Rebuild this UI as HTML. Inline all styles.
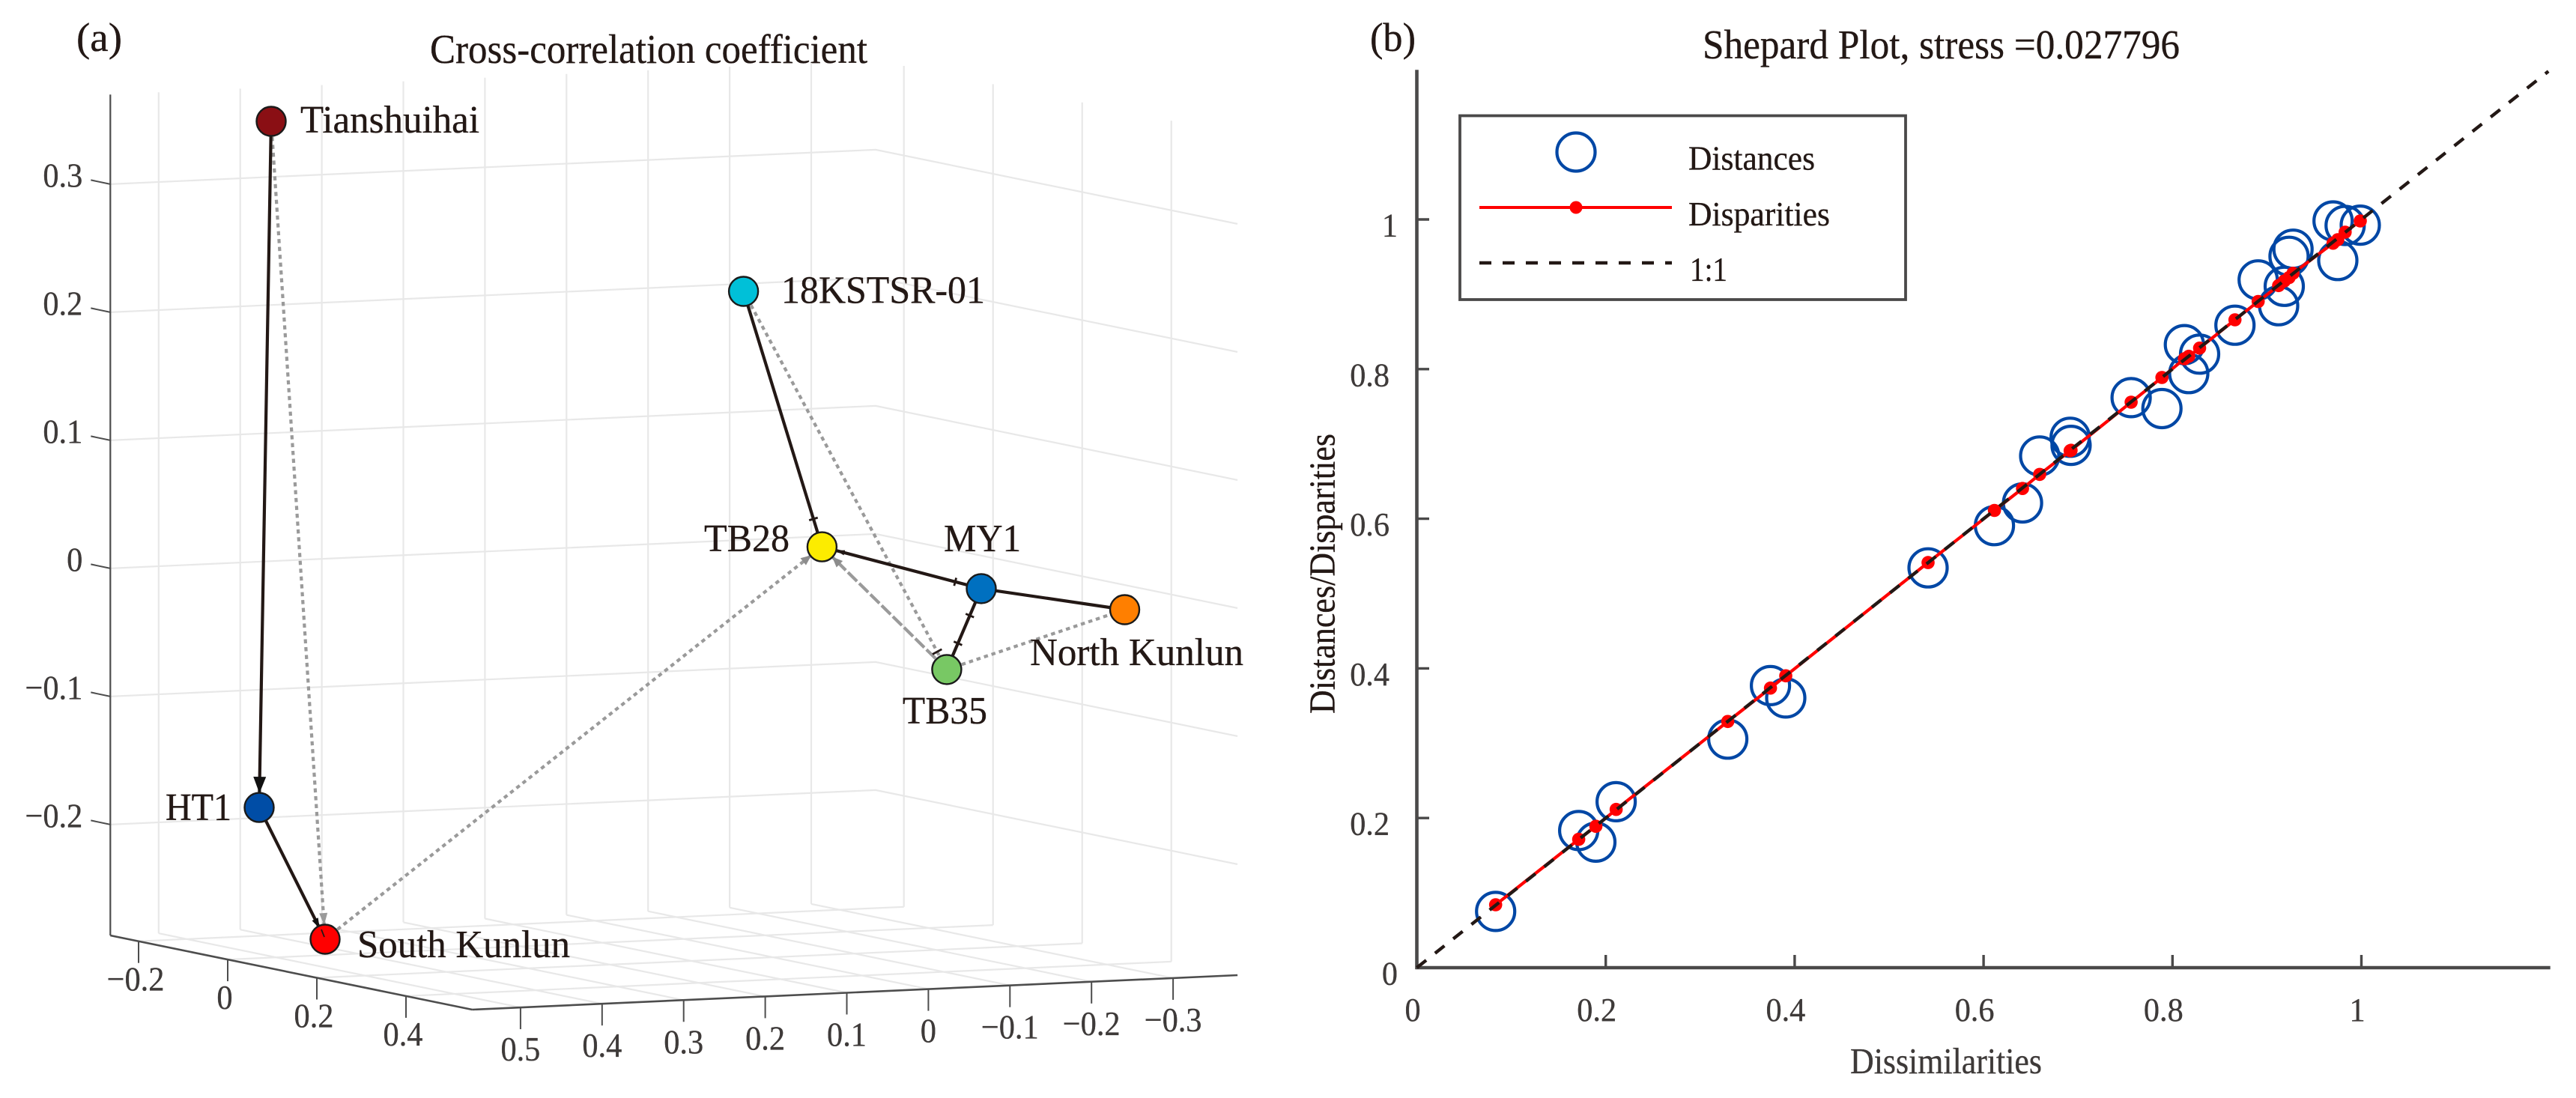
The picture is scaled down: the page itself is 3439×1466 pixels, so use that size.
<!DOCTYPE html>
<html lang="en">
<head>
<meta charset="utf-8">
<title>Cross-correlation coefficient and Shepard plot</title>
<style>
html,body{margin:0;padding:0;background:#fff;width:3439px;height:1466px;overflow:hidden}
svg{display:block;font-family:"Liberation Serif","Times New Roman",serif}
text{stroke:currentColor;stroke-width:0.35px}
</style>
</head>
<body>
<svg id="fig" xmlns="http://www.w3.org/2000/svg" width="3439" height="1466" viewBox="0 0 3439 1466">
  <rect x="0" y="0" width="3439" height="1466" fill="#fff"/>
  <text x="102" y="68" font-size="54" fill="#231815" color="#231815" textLength="61" lengthAdjust="spacingAndGlyphs">(a)</text>
  <text x="574" y="84" font-size="55" fill="#231815" color="#231815" textLength="584" lengthAdjust="spacingAndGlyphs">Cross-correlation coefficient</text>
  <text x="1829" y="68" font-size="54" fill="#231815" color="#231815" textLength="61" lengthAdjust="spacingAndGlyphs">(b)</text>
  <text x="2273" y="78" font-size="55" fill="#231815" color="#231815" textLength="637" lengthAdjust="spacingAndGlyphs">Shepard Plot, stress =0.027796</text>
  <g id="panelA"></g>
  <g id="panelB"></g>
  <text x="2470" y="1433" font-size="49" fill="#3e3a39" color="#3e3a39" textLength="256" lengthAdjust="spacingAndGlyphs">Dissimilarities</text>
  <text transform="translate(1781.5 953) rotate(-90)" x="0" y="0" font-size="49" fill="#231815" color="#231815" textLength="374" lengthAdjust="spacingAndGlyphs">Distances/Disparities</text>
  <g>
    <rect x="1949" y="154.5" width="595" height="245.5" fill="#fff" stroke="#4a4949" stroke-width="3.8"/>
    <circle cx="2104" cy="203" r="25.5" fill="none" stroke="#0047a5" stroke-width="4.2"/>
    <text x="2254" y="226.5" font-size="46" fill="#231815" color="#231815" textLength="169" lengthAdjust="spacingAndGlyphs">Distances</text>
    <line x1="1975" y1="277" x2="2232" y2="277" stroke="#ff0000" stroke-width="4"/>
    <circle cx="2104" cy="277" r="8.5" fill="#ff0000"/>
    <text x="2254" y="301" font-size="46" fill="#231815" color="#231815" textLength="189" lengthAdjust="spacingAndGlyphs">Disparities</text>
    <line x1="1975" y1="351" x2="2232" y2="351" stroke="#231815" stroke-width="4.4" stroke-dasharray="16 15"/>
    <text x="2256" y="375" font-size="46" fill="#231815" color="#231815" textLength="50" lengthAdjust="spacingAndGlyphs">1:1</text>
  </g>
</svg>
<script>
/* ---------- Panel (a) data ---------- */
const nodeNames = ["Tianshuihai","18KSTSR-01","TB28","MY1","North Kunlun","TB35","HT1","South Kunlun"];
const nodeX = [0.4513,-0.0185,-0.1420,-0.3099,-0.3492,-0.2403,0.4660,0.4945];
const nodeY = [-0.10,0.10,0.05,0.10,0.35,0.15,-0.10,0.10];
const nodeZ = [0.3576,0.2257,0.0191,-0.0148,-0.0145,-0.0724,-0.1777,-0.2655];
const nodeColors = ["#8a0f14","#00c0d8","#fcec00","#0070c0","#ff7f00","#78c864","#004da6","#ff0000"];
const solidEdgeFrom = [0,6,1,2,3,3];
const solidEdgeTo   = [6,7,2,3,4,5];
const dottedEdgeFrom = [0,7,1,5,5];
const dottedEdgeTo   = [7,2,5,2,4];
const xTickValues = [0.5,0.4,0.3,0.2,0.1,0,-0.1,-0.2,-0.3];
const xTickLabels = ["0.5","0.4","0.3","0.2","0.1","0","\u22120.1","\u22120.2","\u22120.3"];
const yTickValues = [-0.2,0,0.2,0.4];
const yTickLabels = ["\u22120.2","0","0.2","0.4"];
const zTickValues = [0.3,0.2,0.1,0,-0.1,-0.2];
const zTickLabels = ["0.3","0.2","0.1","0","\u22120.1","\u22120.2"];

/* ---------- Panel (b) data ---------- */
const dissimilarities = [.0834,.1714,.1895,.2110,.3292,.3744,.3906,.5412,.6115,.6412,.6594,.6917,.6926,.7562,.7888,.8126,.8172,.8287,.8661,.8907,.9124,.9183,.9234,.9276,.9700,.9750,.9828,.9988];
const distances = [.0752,.1833,.1678,.2218,.3055,.3770,.3605,.5343,.5908,.6211,.6839,.7089,.6981,.7619,.7472,.8327,.7940,.8200,.8587,.9192,.8847,.9106,.9508,.9603,.9980,.9451,.9920,.9924];
const disparities = [.0841,.1716,.1890,.2115,.3290,.3737,.3901,.5414,.6111,.6404,.6593,.6909,.6915,.7558,.7888,.8138,.8171,.8280,.8659,.8904,.9116,.9177,.9223,.9280,.9683,.9730,.9830,.9980];
const bTickValues = [0,0.2,0.4,0.6,0.8,1];
const bTickLabels = ["0","0.2","0.4","0.6","0.8","1"];

const NS = "http://www.w3.org/2000/svg";
function mk(parent, tag, attrs, text){
  const el = document.createElementNS(NS, tag);
  for (const k in attrs) el.setAttribute(k, attrs[k]);
  if (text !== undefined) el.textContent = text;
  parent.appendChild(el);
  return el;
}
function fit(el, factor){
  el.setAttribute("textLength", (el.getComputedTextLength()*factor).toFixed(1));
  el.setAttribute("lengthAdjust", "spacingAndGlyphs");
}
const slug = s => String(s).toLowerCase().replace(/\u2212/g,"minus-").replace(/[^a-z0-9]+/g,"-");

/* ---------- Panel (a): 3D projection ---------- */
const xMax = 0.5592, xMin = -0.379, yMin = -0.2634, yMax = 0.5486, zMin = -0.2866, zMax = 0.37;
function S(x, y, z){
  const p = y - yMin, q = xMax - x;
  return [147.3 + p*595 + q*1089, 1249 + p*121.9 - q*49 - (z - zMin)*1710];
}
const A = document.getElementById("panelA");
const GRID = "#e8e8e8", AX = "#4d4d4d";
function seg(parent, a, b, color, w, extra){
  return mk(parent, "line", Object.assign({x1:a[0].toFixed(1),y1:a[1].toFixed(1),x2:b[0].toFixed(1),y2:b[1].toFixed(1),stroke:color,"stroke-width":w}, extra||{}));
}
xTickValues.forEach((x,i)=>{
  const l1 = seg(A, S(x,yMin,zMin), S(x,yMin,zMax), GRID, 2.2);
  
  
  const l2 = seg(A, S(x,yMin,zMin), S(x,yMax,zMin), GRID, 2.2);
  
  
});
yTickValues.forEach((y,i)=>{
  const l1 = seg(A, S(xMin,y,zMin), S(xMin,y,zMax), GRID, 2.2);
  
  
  const l2 = seg(A, S(xMax,y,zMin), S(xMin,y,zMin), GRID, 2.2);
  
  
});
zTickValues.forEach((z,i)=>{
  const a = S(xMax,yMin,z), b = S(xMin,yMin,z), c = S(xMin,yMax,z);
  const pl = mk(A, "polyline", {points:[a,b,c].map(p=>p[0].toFixed(1)+","+p[1].toFixed(1)).join(" "),fill:"none",stroke:GRID,"stroke-width":2.2});
  
  
});
/* axes */
const zAxis = seg(A, S(xMax,yMin,zMin), S(xMax,yMin,zMax), AX, 2.2);


const yAxis = seg(A, S(xMax,yMin,zMin), S(xMax,yMax,zMin), AX, 2.6);


const xAxis = seg(A, S(xMax,yMax,zMin), S(xMin,yMax,zMin), AX, 2.6);


/* ticks + labels */
zTickValues.forEach((z,i)=>{
  const p = S(xMax,yMin,z);
  const t = seg(A, p, [p[0]-26,p[1]-5.5], AX, 2);
  
  
  const lab = mk(A, "text", {x:(p[0]-37).toFixed(1),y:(p[1]+3.5).toFixed(1),"font-size":46,fill:"#3e3a39",color:"#3e3a39","text-anchor":"end"}, zTickLabels[i]);
  
  
  fit(lab, 0.92);
});
yTickValues.forEach((y,i)=>{
  const p = S(xMax,y,zMin);
  const t = seg(A, p, [p[0],p[1]+29], AX, 2);
  
  
  const lab = mk(A, "text", {x:(p[0]-4).toFixed(1),y:(p[1]+66).toFixed(1),"font-size":46,fill:"#3e3a39",color:"#3e3a39","text-anchor":"middle"}, yTickLabels[i]);
  
  
  fit(lab, 0.92);
});
xTickValues.forEach((x,i)=>{
  const p = S(x,yMax,zMin);
  const t = seg(A, p, [p[0],p[1]+29], AX, 2);
  
  
  const lab = mk(A, "text", {x:p[0].toFixed(1),y:(p[1]+71).toFixed(1),"font-size":46,fill:"#3e3a39",color:"#3e3a39","text-anchor":"middle"}, xTickLabels[i]);
  
  
  fit(lab, 0.92);
});
/* graph */
const pts = nodeNames.map((n,i)=>S(nodeX[i],nodeY[i],nodeZ[i]));
function along(a,b,dFromB){
  const dx=b[0]-a[0],dy=b[1]-a[1],L=Math.hypot(dx,dy);
  return {p:[b[0]-dx/L*dFromB,b[1]-dy/L*dFromB],ux:dx/L,uy:dy/L};
}
function arrow(a,b,tipD,len,halfW,color,name){
  const t=along(a,b,tipD), s=along(a,b,tipD+len);
  const nx=-t.uy,ny=t.ux;
  const ar = mk(A,"polygon",{points:[t.p[0]+","+t.p[1],(s.p[0]+nx*halfW)+","+(s.p[1]+ny*halfW),(s.p[0]-nx*halfW)+","+(s.p[1]-ny*halfW)].join(" "),fill:color});
  
  
}
function crossTick(a,b,d,halfW,name){
  const t=along(a,b,d), nx=-t.uy, ny=t.ux;
  const ln = seg(A,[t.p[0]+nx*halfW,t.p[1]+ny*halfW],[t.p[0]-nx*halfW,t.p[1]-ny*halfW],"#231815",2.8);
  
  
}
dottedEdgeFrom.forEach((f,i)=>{
  const t = dottedEdgeTo[i];
  const dashed = (f===5 && t===2);
  const e = seg(A, pts[f], pts[t], "#9a9a9a", 4.2, {"stroke-dasharray": dashed ? "17 4" : "5.5 5"});
  
  
});
solidEdgeFrom.forEach((f,i)=>{
  const t = solidEdgeTo[i];
  const e = seg(A, pts[f], pts[t], "#231815", 4.2);
  
  
});
arrow(pts[0],pts[6],19,22,8.5,"#111",'arrow-tianshuihai-to-ht1');
arrow(pts[6],pts[7],16,14,4.5,"#111",'arrow-ht1-to-south-kunlun');
arrow(pts[0],pts[7],19,16,5.5,"#9a9a9a",'arrow-tianshuihai-to-south-kunlun');
arrow(pts[7],pts[2],18,14,6,"#8c8c8c",'arrow-south-kunlun-to-tb28');
arrow(pts[5],pts[2],19,14,6,"#8c8c8c",'arrow-tb35-to-tb28');
arrow(pts[3],pts[2],19,12,3.5,"#231815",'arrow-my1-to-tb28');
crossTick(pts[1],pts[2],39,6,'tick-18kstsr-to-tb28');
crossTick(pts[2],pts[3],36,5.5,'tick-tb28-to-my1');
crossTick(pts[3],pts[5],38,6,'tick-my1-to-tb35-lower');
crossTick(pts[5],pts[3],39,6,'tick-my1-to-tb35-upper');
crossTick(pts[1],pts[5],27,7,'tick-18kstsr-to-tb35');
nodeNames.forEach((n,i)=>{
  const c = mk(A,"circle",{cx:pts[i][0].toFixed(1),cy:pts[i][1].toFixed(1),r:19.5,fill:nodeColors[i],stroke:"#1a1a1a","stroke-width":2.4});
  
  
});
/* small mark where the HT1 edge tip overlaps the South Kunlun node */
const tipMark = seg(A,[pts[7][0]-5,pts[7][1]-13],[pts[7][0]-1,pts[7][1]-3],"#231815",1.8);


/* label placement relative to each node, and fitted widths */
const labelDx = [39,50.4,-157.4,-50,-126.5,-59,-125,43];
const labelDy = [15,15.6,6,-50,74,72,17,24];
const labelW  = [239,272,114,103,285,113,88,284];
nodeNames.forEach((n,i)=>{
  const lab = mk(A,"text",{x:(pts[i][0]+labelDx[i]).toFixed(1),y:(pts[i][1]+labelDy[i]).toFixed(1),"font-size":52,fill:"#231815",color:"#231815",textLength:labelW[i],lengthAdjust:"spacingAndGlyphs"},n);
  
  
});

/* ---------- Panel (b) ---------- */
const B = document.getElementById("panelB");
const bx = v => 1891.5 + v*1261;
const by = v => 1292 - v*999;
const AXB = "#4a4949";
bTickValues.forEach((v,i)=>{
  const isInt = bTickLabels[i].length===1;
  if (v!==0){
    const tx = mk(B,"line",{x1:bx(v),y1:1292,x2:bx(v),y2:1275,stroke:AXB,"stroke-width":3.4});
    
    
    const ty = mk(B,"line",{x1:1891.5,y1:by(v),x2:1908,y2:by(v),stroke:AXB,"stroke-width":3.4});
    
    
  }
  const lx = mk(B,"text",{x:bx(v)+(isInt?-5.5:-12),y:1363,"font-size":44,fill:"#3e3a39",color:"#3e3a39","text-anchor":"middle"},bTickLabels[i]);
  
  
  fit(lx, 0.96);
  const ly = mk(B,"text",{x:isInt?1866:1855,y:by(v)+22.5,"font-size":44,fill:"#3e3a39",color:"#3e3a39","text-anchor":"end"},bTickLabels[i]);
  
  
  fit(ly, 0.96);
});
const yAx = mk(B,"line",{x1:1891.5,y1:by(1.2),x2:1891.5,y2:1294,stroke:AXB,"stroke-width":4.6});


const xAx = mk(B,"line",{x1:1889.5,y1:1292,x2:bx(1.2),y2:1292,stroke:AXB,"stroke-width":4.6});


dissimilarities.forEach((d,i)=>{
  const c = mk(B,"circle",{cx:bx(d).toFixed(1),cy:by(distances[i]).toFixed(1),r:25.5,fill:"none",stroke:"#0047a5","stroke-width":4.2});
  
  
});
const redLine = mk(B,"polyline",{points:dissimilarities.map((d,i)=>bx(d).toFixed(1)+","+by(disparities[i]).toFixed(1)).join(" "),fill:"none",stroke:"#ff0000","stroke-width":4.2});


dissimilarities.forEach((d,i)=>{
  const c = mk(B,"circle",{cx:bx(d).toFixed(1),cy:by(disparities[i]).toFixed(1),r:8.8,fill:"#ff0000"});
  
  
});
const oneToOne = mk(B,"line",{x1:bx(0),y1:by(0),x2:bx(1.198),y2:by(1.198),stroke:"#231815","stroke-width":4.4,"stroke-dasharray":"16 15"});


</script>
</body>
</html>
